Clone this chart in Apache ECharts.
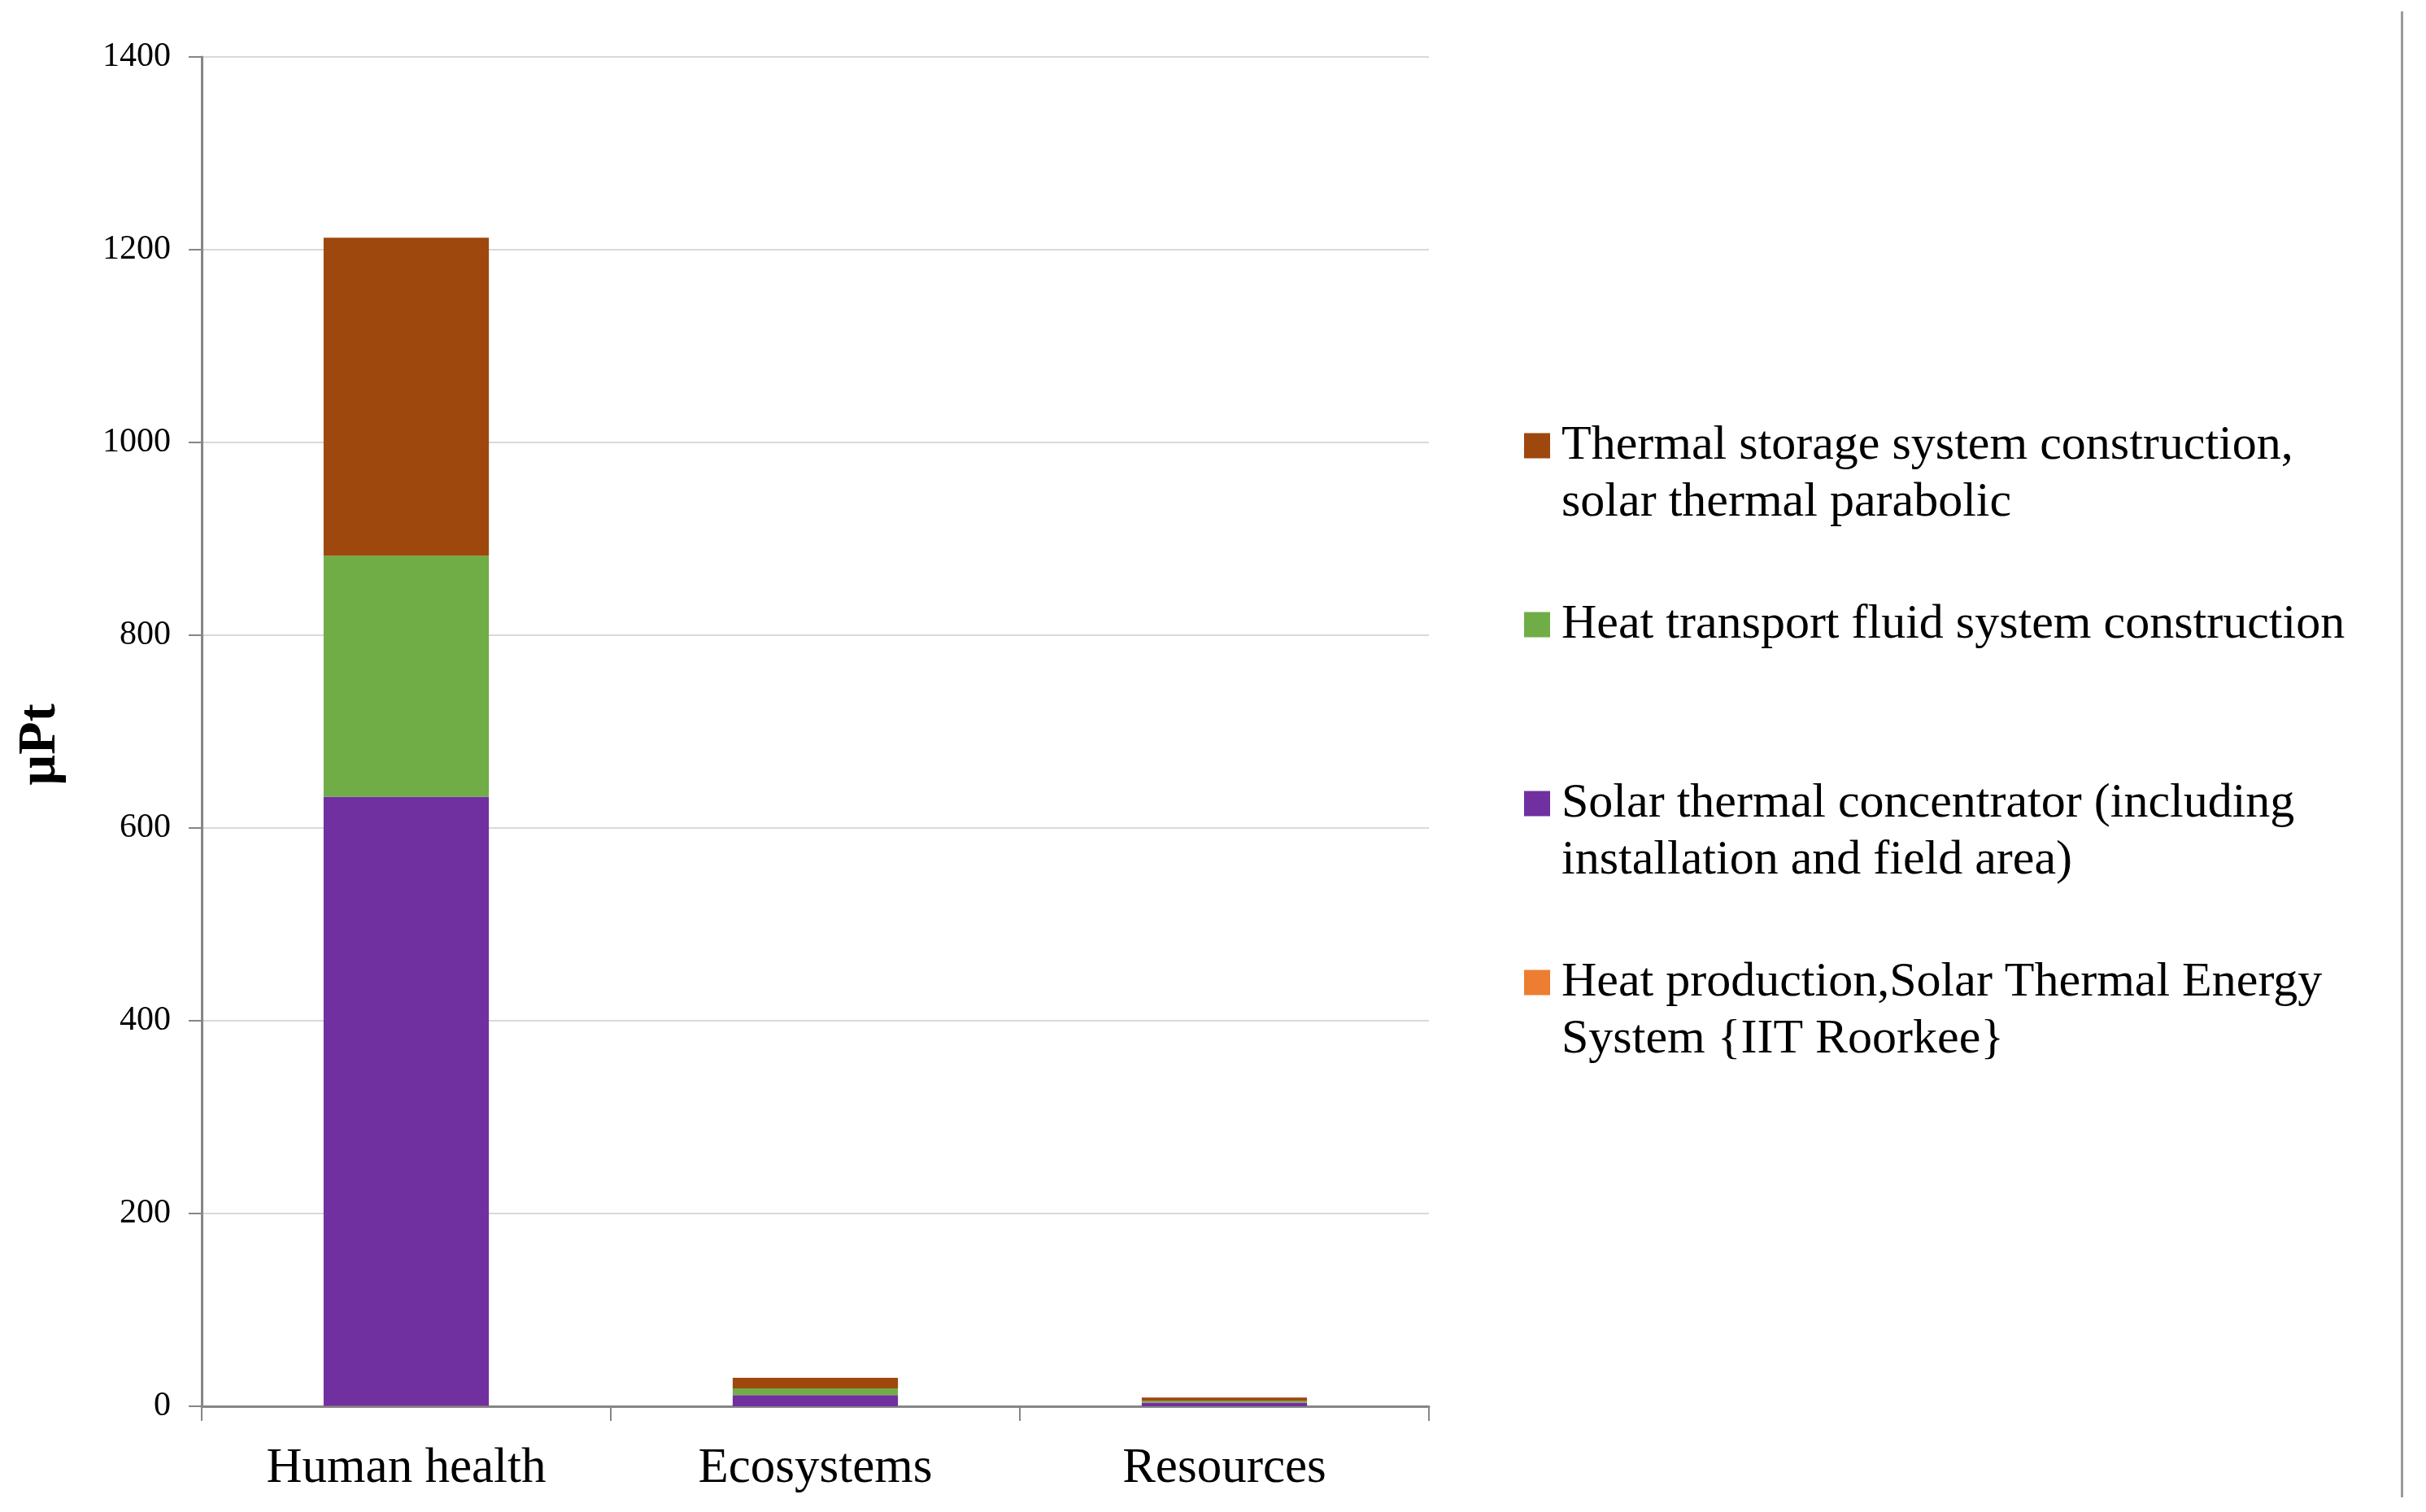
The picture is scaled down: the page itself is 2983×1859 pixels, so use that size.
<!DOCTYPE html>
<html>
<head>
<meta charset="utf-8">
<script src="https://cdn.jsdelivr.net/npm/echarts@6/dist/echarts.min.js"></script>
<style>
html,body{margin:0;padding:0;background:#fff;}
#chart{position:absolute;left:0;top:0;width:2983px;height:1859px;}
#border{position:absolute;left:2952px;top:14px;width:3px;height:1827px;background:#9a9a9a;}
</style>
</head>
<body>
<div id="chart"></div>
<div id="border"></div>
<script>
const categories = ['Human health', 'Ecosystems', 'Resources'];
const seriesNames = [
  'Heat production,Solar Thermal Energy System {IIT Roorkee}',
  'Solar thermal concentrator (including installation and field area)',
  'Heat transport fluid system construction',
  'Thermal storage system construction, solar thermal parabolic'
];
const legendLabels = [
  'Heat production,Solar Thermal Energy\nSystem {IIT Roorkee}',
  'Solar thermal concentrator (including\ninstallation and field area)',
  'Heat transport fluid system construction',
  'Thermal storage system construction,\nsolar thermal parabolic'
];
const heatProduction = [0.5, 0.1, 0.05];
const solarConcentrator = [632, 11.5, 3.8];
const heatTransport = [250, 7, 1.7];
const thermalStorage = [330, 11, 3.6];
const yTicks = [0, 200, 400, 600, 800, 1000, 1200, 1400];

const colors = ['#ED7D31', '#7030A0', '#70AD47', '#9E480E'];
const values = [heatProduction, solarConcentrator, heatTransport, thermalStorage];
const FONT = '"Liberation Serif", "Times New Roman", serif';

const chart = echarts.init(document.getElementById('chart'), null, {renderer: 'canvas'});

// legend placement: icon centres at 548, 768, 988, 1208 (top to bottom)
const legendOrder = [3, 2, 1, 0];
const legendTops = [443, 733, 883, 1103];
const legends = legendOrder.map((si, k) => {
  const twoLine = legendLabels[si].indexOf('\n') >= 0;
  const label = twoLine ? ' \n' + legendLabels[si] : legendLabels[si];
  return {
    orient: 'vertical',
    left: 1874,
    top: legendTops[k],
    padding: 0,
    itemWidth: 32,
    itemHeight: 31,
    itemGap: 0,
    icon: 'rect',
    selectedMode: false,
    data: [seriesNames[si]],
    formatter: function () { return label; },
    textStyle: {
      fontFamily: FONT,
      fontSize: 60,
      lineHeight: 70,
      color: '#000',
      padding: [0, 0, 0, 9]
    }
  };
});

const option = {
  backgroundColor: '#fff',
  animation: false,
  legend: legends,
  grid: {left: 248, right: 1226, top: 70, bottom: 130, containLabel: false},
  xAxis: {
    type: 'category',
    data: categories,
    axisLine: {show: true, lineStyle: {color: '#868686', width: 3}},
    axisTick: {show: true, alignWithLabel: false, length: 18, lineStyle: {color: '#868686', width: 2}},
    axisLabel: {fontFamily: FONT, fontSize: 61, lineHeight: 61, color: '#000', margin: 46},
    splitLine: {show: false}
  },
  yAxis: {
    type: 'value',
    min: 0,
    max: 1400,
    interval: 200,
    name: 'µPt',
    nameLocation: 'middle',
    nameGap: 165,
    nameTextStyle: {fontFamily: FONT, fontSize: 66, fontWeight: 'bold', color: '#000', padding: [0, 32, 0, 0]},
    axisLine: {show: true, lineStyle: {color: '#868686', width: 3}},
    axisTick: {show: true, inside: false, length: 16, lineStyle: {color: '#868686', width: 2}},
    axisLabel: {
      fontFamily: FONT, fontSize: 42, color: '#000', margin: 38,
      formatter: function (v) { return yTicks.indexOf(v) >= 0 ? String(v) : ''; }
    },
    splitLine: {show: true, lineStyle: {color: '#D9D9D9', width: 2}}
  },
  series: seriesNames.map((n, i) => ({
    name: n,
    type: 'bar',
    stack: 'total',
    data: values[i],
    barCategoryGap: '59.6%',
    itemStyle: {color: colors[i]}
  }))
};
chart.setOption(option);
</script>
</body>
</html>
